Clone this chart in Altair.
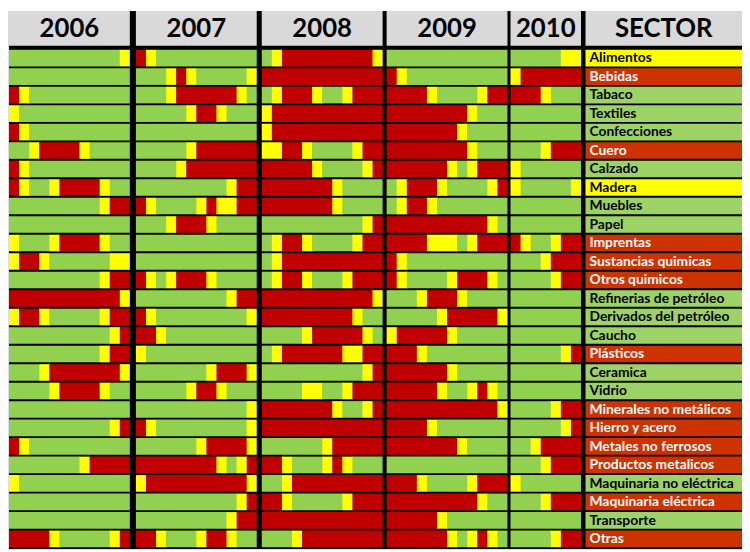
import altair as alt
import pandas as pd

years = ["2006", "2007", "2008", "2009", "2010"]
sectors = ["Alimentos", "Bebidas", "Tabaco", "Textiles", "Confecciones", "Cuero", "Calzado",
           "Madera", "Muebles", "Papel", "Imprentas", "Sustancias quimicas", "Otros quimicos",
           "Refinerias de petróleo", "Derivados del petróleo", "Caucho", "Plásticos", "Ceramica",
           "Vidrio", "Minerales no metálicos", "Hierro y acero", "Metales no ferrosos",
           "Productos metalicos", "Maquinaria no eléctrica", "Maquinaria eléctrica",
           "Transporte", "Otras"]

# monthly status per sector: G = green, Y = yellow, R = red
s2006 = ["GGGGGGGGGGGY", "GGGGGGGGGGGG", "RYGGGGGGGGGG", "YGGGGGGGGGGG", "RYGGGGGGGGGG",
         "GGYRRRRYGGGG", "RYGGGGGGGGGG", "RYGGYRRRRYGG", "GGGGGGGGGYRR", "GGGGGGGGGGGG",
         "YGGGYRRRRYGG", "YRRYGGGGGGYY", "GGGGGGGGGYRR", "RRRRRRRRRRRY", "YRRYGGGGGYRR",
         "GGGGGGGGGGYR", "GGGGGGGGGYRR", "GGGYRRRRRRRY", "GGGGYRRRRYGG", "GGGGGGGGGGGG",
         "GGGGGGGGGGYR", "RYGGGGGGGGGG", "GGGGGGGYRRRR", "YGGGGGGGGGGG", "GGGGGGGGGGGG",
         "GGGGGGGGGGGG", "RRRRYGGGGGYR"]
s2007 = ["RYGGGGGGGGGG", "GGGYRYGGGGGY", "GGGYRRRRRRYG", "GGGGGYRRYGGG", "GGGGGGGGGGGG",
         "GGGGGYRRRRRR", "GGGGYRRRRRRR", "GGGGGGGGGYRR", "RYGGGGYRYYRR", "GGGYRRRYGGGG",
         "GGGGGGGGGGGG", "GGGGGGGGGGGG", "RYGYRRRYGGGG", "GGGGGGGGGYRR", "RYGGGGGGGGGY",
         "RRYGGGGGGGGG", "YGGGGGGGGGGG", "GGGGGGGYRRRY", "GGGGGYRRYGGG", "GGGGGGGGGGGY",
         "RYGGGGGGGGGY", "GGGGGGYRRRRY", "RRRRRRRRYGYR", "YRRRRRRRRRRY", "GGGGGGGGGGYR",
         "GGGGGGGGGYRR", "RRYGGGYRRYGG"]
s2008 = ["GYRRRRRRRRRY", "RRRRRRRRRRRR", "GYRRRYGGYRRR", "YRRRRRRRRRRR", "YRRRRRRRRRRR",
         "YYRRYGGGGYRR", "RRRRRYGGGGYR", "RRRRRRRYGGGG", "RRRRRRRYGGGG", "GGGGGGGGGGYR",
         "GYRRYGGGGYRR", "GYRRRRRRRRRR", "GYRRYGGGYRRR", "RRRRRRRRRRRY", "RRRRRRRRRYGG",
         "GGGGYRRRRRYG", "GYRRRRRRYYRR", "GGGGGGGGGGYR", "GGGGYYGGYRRR", "RRRRRRRYGGYR",
         "RRRRRRRRRRRR", "GGGGGGYRRRRR", "RRYGGGYRYGGG", "GGYRRRRRRRRR", "RRYGGGGGYRRR",
         "RRRRRRRRRRRR", "GGGYRRRRRRRR"]
s2009 = ["GGGGGGGGGGGG", "RYGGGGGGGGGG", "RRRRYGGGGYRR", "RRRRRRRRYGGG", "RRRRRRRYGGGG",
         "RRRRRRRRYGGG", "RRRRRRYGYRRR", "GYRRRYGGGGYR", "GYRRYGGGGGGG", "RRRRRRRRRRYG",
         "RRRRYYYGYRRR", "RYGGGGGGGGGG", "RYGGGGYRRRYG", "GGGYRRRYGGGG", "GGGGGYRRRRRY",
         "YRRRRRYGGGGG", "RRRYGGGGGGGG", "RRRRRRYGGGGG", "RRRRRYGGYRYG", "RRRRRRRRRRRY",
         "RRRRYGGGGGGG", "RRRRRRRYGGGG", "GGGGGGGGGGGG", "RRRYGGGGYRRR", "RRRRRRRRRYGG",
         "RRRRRYGGGGGG", "RRRRRRYGYRYG"]
s2010 = ["GGGGGYY", "YRRRRRR", "RRRYGGG", "GGGGGGG", "GGGGGGG", "GGGYRRR", "YGGGGGG",
         "YGGGGGY", "GGGGGGG", "GGGGGGG", "RYGGYRR", "GGGYRRR", "GGGGYRR", "GGGGGGG",
         "GGGGGGG", "GGGGGGG", "GGGGGYR", "GGGGGGG", "GGGGGGG", "GGGGYRR", "GGGGGYR",
         "GGYRRRR", "GGGYRRR", "YGGGGGG", "GGGYRRR", "GGGGGGG", "GGGGYRR"]
sector_status = ["Y", "R", "G", "G", "G", "R", "G", "Y", "G", "G", "R", "R", "R", "G", "G",
                 "G", "R", "G", "G", "R", "R", "R", "R", "G", "R", "G", "R"]

series = {"2006": s2006, "2007": s2007, "2008": s2008, "2009": s2009, "2010": s2010}

# layout (in month units)
block_start = {"2006": 0.0, "2007": 12.6, "2008": 25.1, "2009": 37.5, "2010": 49.8}
sector_x0 = 57.25
x_end = 72.8
XDOM = [-0.1, 72.79]
YDOM = [-2.0, 27.1]

cell_col = {"G": "#92D050", "Y": "#FFFF00", "R": "#C00000"}
label_col = {"G": "#9CD266", "Y": "#FFFF00", "R": "#CC3300"}
text_col = {"G": "#000000", "Y": "#000000", "R": "#FFFFFF"}

# cells: consecutive months with the same status are drawn as one run
cells = []
for yr in years:
    for i, code in enumerate(series[yr]):
        n = len(code)
        m = 0
        while m < n:
            k = m
            while k + 1 < n and code[k + 1] == code[m]:
                k += 1
            x0 = block_start[yr] + m
            x1 = block_start[yr] + k + 1
            if k + 1 < n:
                x1 += 0.06
            cells.append(dict(x=x0, x2=x1, y=i + 0.1, y2=i + 1.0, col=cell_col[code[m]]))
            m = k + 1
cells = pd.DataFrame(cells)

labels = pd.DataFrame([dict(x=sector_x0, x2=x_end, y=i + 0.1, y2=i + 1.0, ym=i + 0.57,
                            name=s, col=label_col[st], tcol=text_col[st])
                       for i, (s, st) in enumerate(zip(sectors, sector_status))])

heads = []
for yr in years:
    n = len(series[yr][0])
    x0 = block_start[yr] if yr != "2006" else -0.1
    heads.append(dict(x=x0, x2=block_start[yr] + n, y=-2.0, y2=-0.12,
                      xm=block_start[yr] + n / 2, ym=-1.04, name=yr))
heads.append(dict(x=sector_x0, x2=x_end, y=-2.0, y2=-0.12,
                  xm=(sector_x0 + x_end) / 2, ym=-1.04, name="SECTOR"))
heads = pd.DataFrame(heads)

bg = pd.DataFrame([dict(x=0.0, x2=x_end, y=-2.0, y2=27.1)])

xs = alt.Scale(domain=XDOM, nice=False, zero=False)
ys = alt.Scale(domain=YDOM, nice=False, zero=False, reverse=True)


def rect_layer(df, color_field=None, const=None):
    enc = dict(x=alt.X("x:Q", scale=xs, axis=None), x2="x2:Q",
               y=alt.Y("y:Q", scale=ys, axis=None), y2="y2:Q")
    if color_field:
        enc["color"] = alt.Color(f"{color_field}:N", scale=None)
    m = alt.Chart(df).mark_rect(strokeWidth=0, color=const) if const else alt.Chart(df).mark_rect(strokeWidth=0)
    return m.encode(**enc)


background = rect_layer(bg, const="#000000")
head_rects = rect_layer(heads, const="#D9D9D9")
cell_rects = rect_layer(cells, color_field="col")
label_rects = rect_layer(labels, color_field="col")

head_text = alt.Chart(heads).mark_text(
    font="Lato", fontWeight="bold", fontSize=26, baseline="middle", align="center"
).encode(x=alt.X("xm:Q", scale=xs, axis=None), y=alt.Y("ym:Q", scale=ys, axis=None), text="name:N")

label_text = alt.Chart(labels).mark_text(
    font="Lato", fontWeight="bold", fontSize=14, baseline="middle", align="left", dx=4
).encode(x=alt.X("x:Q", scale=xs, axis=None), y=alt.Y("ym:Q", scale=ys, axis=None), text="name:N",
         color=alt.Color("tcol:N", scale=None))

chart = alt.layer(background, head_rects, cell_rects, label_rects, head_text, label_text).properties(
    width=742, height=544, autosize="none", padding=0
).configure_view(strokeWidth=0).configure(background="#FFFFFF")

chart.save("out.html", embed_options={"renderer": "svg", "actions": False})
